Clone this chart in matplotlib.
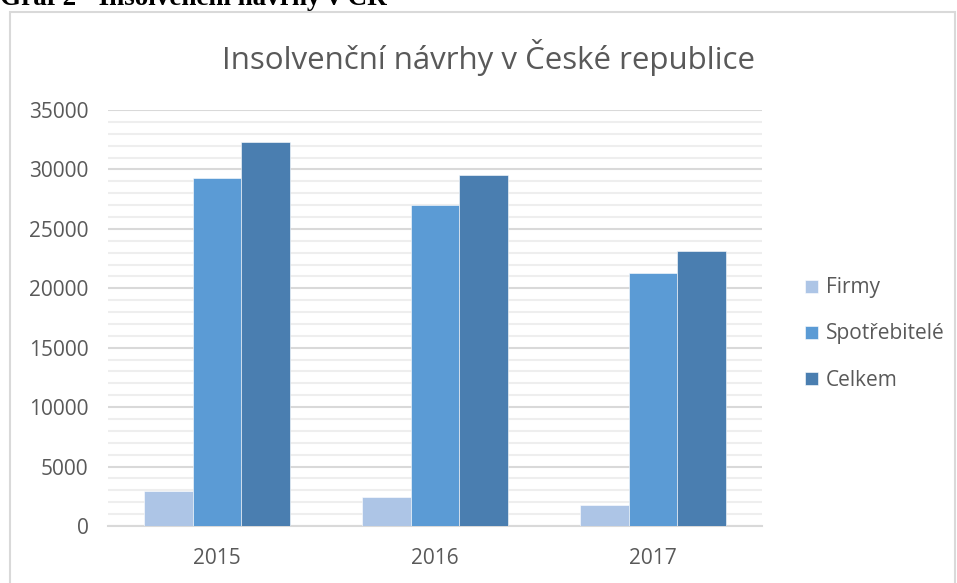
import matplotlib.pyplot as plt
import numpy as np
from matplotlib.patches import Rectangle
from matplotlib.ticker import MultipleLocator

# data
roky = ["2015", "2016", "2017"]
firmy = [2960, 2440, 1770]
spotrebitele = [29300, 27000, 21300]
celkem = [32300, 29500, 23150]

serie = ["Firmy", "Spotřebitelé", "Celkem"]
barvy = ["#adc5e6", "#5b9bd5", "#4a7eb0"]

plt.rcParams["font.family"] = ["Open Sans", "DejaVu Sans"]

fig = plt.figure(figsize=(9.57, 5.83), dpi=100)

# header above the chart box (clipped at the top in the reference)
fig.text(0.0, 1 - 5 / 583, "Graf 2 - Insolvenční návrhy v ČR", family="Liberation Serif",
         fontweight="bold", fontsize=19.5, va="baseline", ha="left", color="black")

# chart border
fig.patches.append(Rectangle((10 / 957, -0.05), 945 / 957, 1.05 - 12 / 583,
                             transform=fig.transFigure, fill=False,
                             edgecolor="#d9d9d9", linewidth=1.5))

ax = fig.add_axes([108 / 957, 1 - 526 / 583, 654 / 957, 416 / 583])

x = np.arange(len(roky))
w = 0.223
for i, (nazev, hodnoty) in enumerate(zip(serie, [firmy, spotrebitele, celkem])):
    ax.bar(x + (i - 1) * w, hodnoty, width=w, color=barvy[i], label=nazev,
           edgecolor="white", linewidth=0.4, zorder=3)

ax.set_xlim(-0.5, 2.5)
ax.set_ylim(0, 35000)
ax.yaxis.set_major_locator(MultipleLocator(5000))
ax.yaxis.set_minor_locator(MultipleLocator(1000))
ax.grid(axis="y", which="major", color="#d9d9d9", linewidth=1.5, zorder=0)
ax.grid(axis="y", which="minor", color="#eeeeee", linewidth=1.5, zorder=0)

for s in ["top", "right", "left"]:
    ax.spines[s].set_visible(False)
ax.spines["bottom"].set_color("#d9d9d9")
ax.spines["bottom"].set_linewidth(1.5)

ax.set_xticks(x)
ax.set_xticklabels(roky)
ax.tick_params(axis="both", which="both", length=0, labelsize=15, colors="#595959")
ax.tick_params(axis="x", pad=16)
ax.tick_params(axis="y", pad=14)

fig.text(488 / 957, 1 - 57 / 583, "Insolvenční návrhy v České republice",
         ha="center", va="center", fontsize=22.5, color="#595959")

ax.legend(loc="center left", bbox_to_anchor=(797 / 957, 1 - 334 / 583),
          bbox_transform=fig.transFigure, frameon=False, fontsize=15,
          labelcolor="#595959", handlelength=0.6, handleheight=0.6,
          handletextpad=0.4, labelspacing=1.2, borderaxespad=0)

fig.savefig("out.png", dpi=100)
